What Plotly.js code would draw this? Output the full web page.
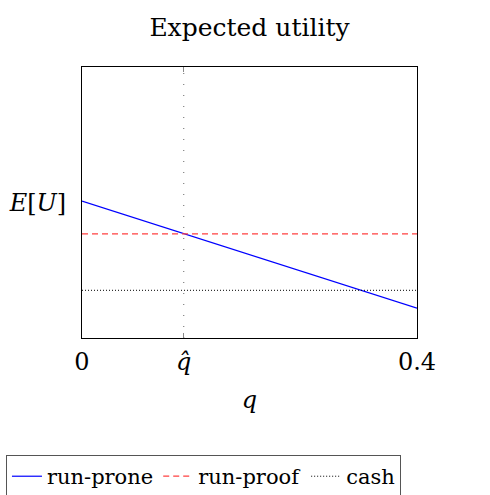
<!DOCTYPE html>
<html>
<head>
<meta charset="utf-8">
<script src="https://cdn.plot.ly/plotly-3.0.1.min.js"></script>
<style>html,body{margin:0;padding:0;background:#fff;}#chart{width:490px;height:495px;}</style>
</head>
<body>
<div id="chart"></div>
<script>
const qValues = [0, 0.4];
const runProne = [0.505, 0.11];
const runProof = [0.384, 0.384];
const cash = [0.176, 0.176];
const qHat = 0.1215;
const xTickVals = [0, qHat, 0.4];
const xTickText = ["0", "<i>q̂</i>", "0.4"];
const yTickVals = [0.5];
const yTickText = ["<i>E</i>[<i>U</i>]"];

const FONT = "'DejaVu Serif', 'Liberation Serif', serif";

const traces = [
  {x: qValues, y: runProne, name: "run-prone", mode: "lines",
   line: {color: "#0000ff", width: 1.2}},
  {x: qValues, y: runProof, name: "run-proof", mode: "lines",
   line: {color: "#ff4040", width: 1.2, dash: "6px,4px"}},
  {x: qValues, y: cash, name: "cash", mode: "lines",
   line: {color: "#000000", width: 1, dash: "1px,2px"}},
  {x: [qHat, qHat], y: [0, 1], mode: "lines", showlegend: false, hoverinfo: "skip",
   line: {color: "#666666", width: 1, dash: "1px,10px"}}
];

const layout = {
  width: 490, height: 495,
  margin: {l: 82, r: 73, t: 67, b: 157, autoexpand: false},
  paper_bgcolor: "#fff", plot_bgcolor: "#fff",
  font: {family: FONT, size: 24, color: "#000"},
  title: {text: "Expected utility", font: {family: FONT, size: 25}, x: 0.5, xref: "paper",
    y: 0.9455, yref: "container", yanchor: "middle"},
  xaxis: {range: [0, 0.4], tickvals: xTickVals, ticktext: xTickText, showgrid: false, zeroline: false,
    showline: true, mirror: "ticks", linecolor: "#000", linewidth: 1,
    ticks: "inside", ticklen: 5, tickcolor: "#888", tickwidth: 1, ticklabelstandoff: 2,
    tickfont: {family: FONT, size: 24},
    title: {text: "<i>q</i>", font: {family: FONT, size: 24}, standoff: 16}},
  yaxis: {range: [0, 1], tickvals: yTickVals, ticktext: yTickText, showgrid: false, zeroline: false,
    showline: true, mirror: true, linecolor: "#000", linewidth: 1, ticks: "", ticklabelstandoff: 10,
    tickfont: {family: FONT, size: 24}},
  showlegend: true,
  legend: {orientation: "h", x: -0.227, xanchor: "left", y: -0.432, yanchor: "top",
    bordercolor: "#555", borderwidth: 1, font: {family: FONT, size: 21},
    itemwidth: 30, tracegroupgap: 0}
};

Plotly.newPlot("chart", traces, layout, {displayModeBar: false, staticPlot: true});
</script>
</body>
</html>
